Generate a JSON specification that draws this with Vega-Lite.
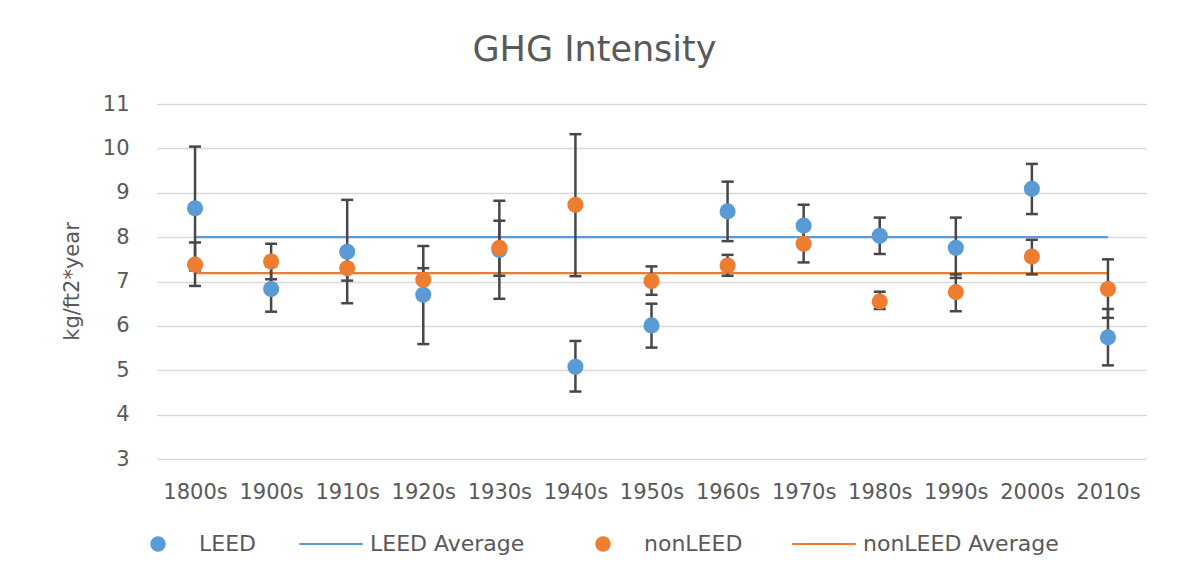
{
  "$schema": "https://vega.github.io/schema/vega-lite/v6.json",
  "width": 989,
  "height": 355,
  "autosize": {"type": "none"},
  "padding": {"left": 157, "top": 104, "right": 34, "bottom": 121},
  "background": "white",
  "title": {
    "text": "GHG Intensity",
    "font": "DejaVu Sans",
    "fontSize": 35,
    "fontWeight": "normal",
    "color": "#595959",
    "anchor": "middle",
    "dx": -57,
    "offset": 25
  },
  "datasets": {
    "pts": [
      {"decade": "1800s", "series": "LEED", "value": 8.65, "lo": 7.25, "hi": 10.04},
      {"decade": "1900s", "series": "LEED", "value": 6.83, "lo": 6.32, "hi": 7.34},
      {"decade": "1910s", "series": "LEED", "value": 7.67, "lo": 6.51, "hi": 8.84},
      {"decade": "1920s", "series": "LEED", "value": 6.70, "lo": 5.59, "hi": 7.80},
      {"decade": "1930s", "series": "LEED", "value": 7.71, "lo": 6.61, "hi": 8.82},
      {"decade": "1940s", "series": "LEED", "value": 5.08, "lo": 4.52, "hi": 5.66},
      {"decade": "1950s", "series": "LEED", "value": 6.01, "lo": 5.51, "hi": 6.50},
      {"decade": "1960s", "series": "LEED", "value": 8.58, "lo": 7.91, "hi": 9.25},
      {"decade": "1970s", "series": "LEED", "value": 8.26, "lo": 7.79, "hi": 8.73},
      {"decade": "1980s", "series": "LEED", "value": 8.03, "lo": 7.62, "hi": 8.44},
      {"decade": "1990s", "series": "LEED", "value": 7.76, "lo": 7.08, "hi": 8.44},
      {"decade": "2000s", "series": "LEED", "value": 9.09, "lo": 8.52, "hi": 9.65},
      {"decade": "2010s", "series": "LEED", "value": 5.74, "lo": 5.11, "hi": 6.38},
      {"decade": "1800s", "series": "nonLEED", "value": 7.38, "lo": 6.90, "hi": 7.88},
      {"decade": "1900s", "series": "nonLEED", "value": 7.45, "lo": 7.05, "hi": 7.85},
      {"decade": "1910s", "series": "nonLEED", "value": 7.30, "lo": 7.02, "hi": 7.58},
      {"decade": "1920s", "series": "nonLEED", "value": 7.04, "lo": 6.78, "hi": 7.30},
      {"decade": "1930s", "series": "nonLEED", "value": 7.76, "lo": 7.13, "hi": 8.37},
      {"decade": "1940s", "series": "nonLEED", "value": 8.73, "lo": 7.12, "hi": 10.32},
      {"decade": "1950s", "series": "nonLEED", "value": 7.01, "lo": 6.70, "hi": 7.34},
      {"decade": "1960s", "series": "nonLEED", "value": 7.36, "lo": 7.13, "hi": 7.60},
      {"decade": "1970s", "series": "nonLEED", "value": 7.85, "lo": 7.43, "hi": 8.27},
      {"decade": "1980s", "series": "nonLEED", "value": 6.55, "lo": 6.38, "hi": 6.77},
      {"decade": "1990s", "series": "nonLEED", "value": 6.76, "lo": 6.33, "hi": 7.16},
      {"decade": "2000s", "series": "nonLEED", "value": 7.56, "lo": 7.16, "hi": 7.94},
      {"decade": "2010s", "series": "nonLEED", "value": 6.83, "lo": 6.18, "hi": 7.50}
    ],
    "avg": [
      {"decade": "1800s", "series": "LEED Average", "value": 8.0},
      {"decade": "2010s", "series": "LEED Average", "value": 8.0},
      {"decade": "1800s", "series": "nonLEED Average", "value": 7.19},
      {"decade": "2010s", "series": "nonLEED Average", "value": 7.19}
    ]
  },
  "encoding": {
    "x": {
      "field": "decade",
      "type": "ordinal",
      "sort": ["1800s","1900s","1910s","1920s","1930s","1940s","1950s","1960s","1970s","1980s","1990s","2000s","2010s"],
      "scale": {"type": "point", "padding": 0.5, "domain": ["1800s","1900s","1910s","1920s","1930s","1940s","1950s","1960s","1970s","1980s","1990s","2000s","2010s"]},
      "axis": {
        "title": null,
        "labelAngle": 0,
        "domain": false,
        "ticks": false,
        "grid": false,
        "labelFont": "DejaVu Sans",
        "labelFontSize": 21,
        "labelColor": "#595959",
        "labelPadding": 22,
        "labelBaseline": "top"
      }
    },
    "y": {"field": "value", "type": "quantitative", "title": "kg/ft2*year", "scale": {"domain": [3, 11]}}
  },
  "layer": [
    {
      "data": {"name": "avg"},
      "transform": [{"filter": "datum.series === 'LEED Average'"}],
      "mark": {"type": "line", "strokeWidth": 2.2},
      "encoding": {
        "color": {
          "field": "series", "type": "nominal",
          "scale": {"domain": ["LEED Average"], "range": ["#5B9BD5"]},
          "legend": {"legendX": 163, "legendY": 429, "symbolType": "M-4.5,0H4.5", "symbolSize": 200, "symbolStrokeWidth": 2.2, "labelOffset": 28}
        }
      }
    },
    {
      "data": {"name": "avg"},
      "transform": [{"filter": "datum.series === 'nonLEED Average'"}],
      "mark": {"type": "line", "strokeWidth": 2.2},
      "encoding": {
        "color": {
          "field": "series", "type": "nominal",
          "scale": {"domain": ["nonLEED Average"], "range": ["#ED7D31"]},
          "legend": {"legendX": 656, "legendY": 429, "symbolType": "M-4.5,0H4.5", "symbolSize": 200, "symbolStrokeWidth": 2.2, "labelOffset": 28}
        }
      }
    },
    {
      "data": {"name": "pts"},
      "mark": {"type": "rule", "color": "#474747", "strokeWidth": 2.5},
      "encoding": {
        "y": {"field": "lo", "type": "quantitative"},
        "y2": {"field": "hi"}
      }
    },
    {
      "data": {"name": "pts"},
      "mark": {"type": "tick", "color": "#474747", "size": 12, "thickness": 2.5, "opacity": 1},
      "encoding": {
        "y": {"field": "lo", "type": "quantitative"}
      }
    },
    {
      "data": {"name": "pts"},
      "mark": {"type": "tick", "color": "#474747", "size": 12, "thickness": 2.5, "opacity": 1},
      "encoding": {
        "y": {"field": "hi", "type": "quantitative"}
      }
    },
    {
      "data": {"name": "pts"},
      "transform": [{"filter": "datum.series === 'LEED'"}],
      "mark": {"type": "point", "filled": true, "opacity": 1, "size": 260, "shape": "circle"},
      "encoding": {
        "color": {
          "field": "series", "type": "nominal",
          "scale": {"domain": ["LEED"], "range": ["#5B9BD5"]},
          "legend": {"legendX": -10, "legendY": 429, "symbolType": "circle", "symbolSize": 240, "labelOffset": 30}
        }
      }
    },
    {
      "data": {"name": "pts"},
      "transform": [{"filter": "datum.series === 'nonLEED'"}],
      "mark": {"type": "point", "filled": true, "opacity": 1, "size": 260, "shape": "circle"},
      "encoding": {
        "color": {
          "field": "series", "type": "nominal",
          "scale": {"domain": ["nonLEED"], "range": ["#ED7D31"]},
          "legend": {"legendX": 435, "legendY": 429, "symbolType": "circle", "symbolSize": 240, "labelOffset": 30}
        }
      }
    }
  ],
  "resolve": {"scale": {"color": "independent"}, "legend": {"color": "independent"}},
  "config": {
    "view": {"stroke": null},
    "legend": {
      "title": null,
      "orient": "none",
      "direction": "horizontal",
      "padding": 0,
      "labelFont": "DejaVu Sans",
      "labelFontSize": 22,
      "labelColor": "#595959",
      "labelLimit": 400
    },
    "axisY": {
      "values": [3, 4, 5, 6, 7, 8, 9, 10, 11],
      "domain": false,
      "ticks": false,
      "grid": true,
      "gridColor": "#d9d9d9",
      "gridWidth": 1.6,
      "labelFont": "DejaVu Sans",
      "labelFontSize": 21,
      "labelColor": "#595959",
      "labelPadding": 28,
      "titleFont": "DejaVu Sans",
      "titleFontSize": 21,
      "titleFontWeight": "normal",
      "titleColor": "#595959",
      "titleAngle": -90,
      "titleX": -85,
      "titleY": 177,
      "titleBaseline": "middle",
      "titleAlign": "center"
    }
  }
}
